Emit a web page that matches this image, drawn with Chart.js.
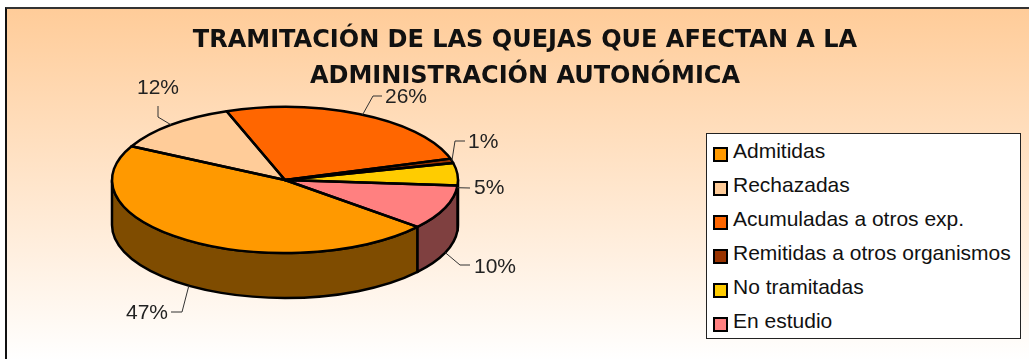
<!DOCTYPE html>
<html>
<head>
<meta charset="utf-8">
<script src="https://cdn.jsdelivr.net/npm/chart.js@4.4.0/dist/chart.umd.min.js"></script>
<style>
  html, body { margin: 0; padding: 0; background: #fff; }
  #wrap { position: relative; width: 1029px; height: 359px; overflow: hidden; }
  #frame {
    position: absolute; left: 5px; top: 7px; width: 1100px; height: 352px;
    border-left: 2px solid #111; border-top: 2px solid #333;
    background: linear-gradient(to bottom, #FFCC99 0%, #FFFFFF 100%);
  }
  #chart { position: absolute; left: 0; top: 0; }
  #title {
    position: absolute; left: 0; top: 21px; width: 1050px; text-align: center;
    font: bold 24px "DejaVu Sans", sans-serif; line-height: 36px; color: #111;
  }
  #legend {
    position: absolute; left: 706px; top: 133px; width: 313px; height: 204px;
    border: 1px solid #222; background: #fff;
  }
  .item { position: absolute; left: 0; height: 30px; width: 313px; }
  .mark {
    position: absolute; left: 6px; top: 8px; width: 15px; height: 15px;
    box-sizing: border-box; border: 2px solid #000;
  }
  .txt {
    position: absolute; left: 26px; top: 0; line-height: 30px; white-space: nowrap;
    font: 21px "Liberation Sans", Arial, sans-serif; color: #111;
  }
</style>
</head>
<body>
<div id="wrap">
  <div id="frame"></div>
  <canvas id="chart" width="1029" height="359"></canvas>
  <div id="title"></div>
  <div id="legend"></div>
</div>
<script>
// Complaint handling breakdown (percent of total)
const categories = [
  'Admitidas',
  'Rechazadas',
  'Acumuladas a otros exp.',
  'Remitidas a otros organismos',
  'No tramitadas',
  'En estudio'
];
const shares = [47, 12, 26, 1, 5, 10];
const sliceColors = ['#FF9900', '#FFCC99', '#FF6600', '#993300', '#FFCC00', '#FF8080'];
const titleLines = ['TRAMITACIÓN DE LAS QUEJAS QUE AFECTAN A LA', 'ADMINISTRACIÓN AUTONÓMICA'];

// Where each percentage label sits and how its leader line bends
const labelLayout = [
  { depthFrac: 1,   path: [[182, 312], [171, 312]], tx: 168, ty: 313, align: 'right'  },
  { depthFrac: 0,   path: [[158, 117], [158, 106]], tx: 158, ty: 88,  align: 'center' },
  { depthFrac: 0,   path: [[373, 96],  [382, 96]],  tx: 385, ty: 97,  align: 'left'   },
  { depthFrac: 0,   path: [[455, 141], [465, 141]], tx: 468, ty: 142, align: 'left'   },
  { depthFrac: 0.3, path: [[470, 188]],             tx: 474, ty: 188, align: 'left'   },
  { depthFrac: 1,   path: [[460, 265], [470, 265]], tx: 474, ty: 267, align: 'left'   }
];

document.getElementById('title').innerHTML = titleLines.join('<br>');

const legend = document.getElementById('legend');
categories.forEach((name, i) => {
  const row = document.createElement('div');
  row.className = 'item';
  row.style.top = (5 + i * 34) + 'px';
  row.innerHTML = '<div class="mark" style="background:' + sliceColors[i] + '"></div>' +
                  '<div class="txt">' + name + '</div>';
  legend.appendChild(row);
});

function shade(hex) {
  const n = parseInt(hex.slice(1), 16);
  const r = ((n >> 16) & 255) >> 1, g = ((n >> 8) & 255) >> 1, b = (n & 255) >> 1;
  return 'rgb(' + r + ',' + g + ',' + b + ')';
}

// Parts of [s, e] that fall on the front half (0..PI) of the disc
function frontSpans(s, e) {
  const out = [];
  for (let k = -2; k <= 2; k++) {
    const lo = Math.max(s, k * 2 * Math.PI), hi = Math.min(e, k * 2 * Math.PI + Math.PI);
    if (hi > lo) out.push([lo, hi]);
  }
  return out;
}

const pie3d = {
  id: 'pie3d',
  beforeDatasetsDraw(chart, args, opts) {
    const ctx = chart.ctx;
    const arcs = chart.getDatasetMeta(0).data;
    const cx = arcs[0].x, cy = arcs[0].y, r = arcs[0].outerRadius;
    const ry = r * opts.tilt, d = opts.depth;
    ctx.save();
    ctx.lineWidth = opts.lineWidth;
    ctx.strokeStyle = '#000';
    ctx.lineJoin = 'round';
    arcs.forEach((arc, i) => {
      frontSpans(arc.startAngle, arc.endAngle).forEach(([a0, a1]) => {
        ctx.beginPath();
        ctx.ellipse(cx, cy, r, ry, 0, a0, a1);
        ctx.ellipse(cx, cy + d, r, ry, 0, a1, a0, true);
        ctx.closePath();
        ctx.fillStyle = shade(sliceColors[i]);
        ctx.fill();
        ctx.stroke();
      });
    });
    ctx.restore();
    // tilt the top face of the pie
    ctx.save();
    ctx.translate(cx, cy);
    ctx.scale(1, opts.tilt);
    ctx.translate(-cx, -cy);
  },
  afterDatasetsDraw(chart, args, opts) {
    const ctx = chart.ctx;
    ctx.restore();
    const arcs = chart.getDatasetMeta(0).data;
    const cx = arcs[0].x, cy = arcs[0].y, r = arcs[0].outerRadius;
    const ry = r * opts.tilt, d = opts.depth;
    ctx.save();
    ctx.lineWidth = opts.lineWidth;
    ctx.strokeStyle = '#000';
    ctx.lineJoin = 'round';
    arcs.forEach(arc => {
      ctx.beginPath();
      ctx.moveTo(cx, cy);
      ctx.ellipse(cx, cy, r, ry, 0, arc.startAngle, arc.endAngle);
      ctx.closePath();
      ctx.stroke();
    });
    // percentage labels with leader lines
    ctx.lineWidth = 1;
    ctx.strokeStyle = '#333';
    ctx.fillStyle = '#222';
    ctx.font = '21px "Liberation Sans", Arial, sans-serif';
    ctx.textBaseline = 'middle';
    arcs.forEach((arc, i) => {
      const L = labelLayout[i];
      const mid = (arc.startAngle + arc.endAngle) / 2;
      const ax = cx + r * Math.cos(mid);
      const ay = cy + ry * Math.sin(mid) + d * L.depthFrac;
      ctx.beginPath();
      ctx.moveTo(ax, ay);
      L.path.forEach(p => ctx.lineTo(p[0], p[1]));
      ctx.stroke();
      ctx.textAlign = L.align;
      ctx.fillText(shares[i] + '%', L.tx, L.ty);
    });
    ctx.restore();
  }
};

new Chart(document.getElementById('chart'), {
  type: 'pie',
  data: {
    labels: categories,
    datasets: [{
      data: shares,
      backgroundColor: sliceColors,
      borderWidth: 0,
      hoverOffset: 0,
      offset: 0
    }]
  },
  options: {
    responsive: false,
    animation: false,
    devicePixelRatio: 1,
    rotation: 130,
    events: [],
    layout: { padding: { left: 112, right: 571, top: 7, bottom: 6 } },
    plugins: {
      legend: { display: false },
      tooltip: { enabled: false },
      title: { display: false },
      pie3d: { tilt: 73 / 173, depth: 45, lineWidth: 2.5 }
    }
  },
  plugins: [pie3d]
});
</script>
</body>
</html>
